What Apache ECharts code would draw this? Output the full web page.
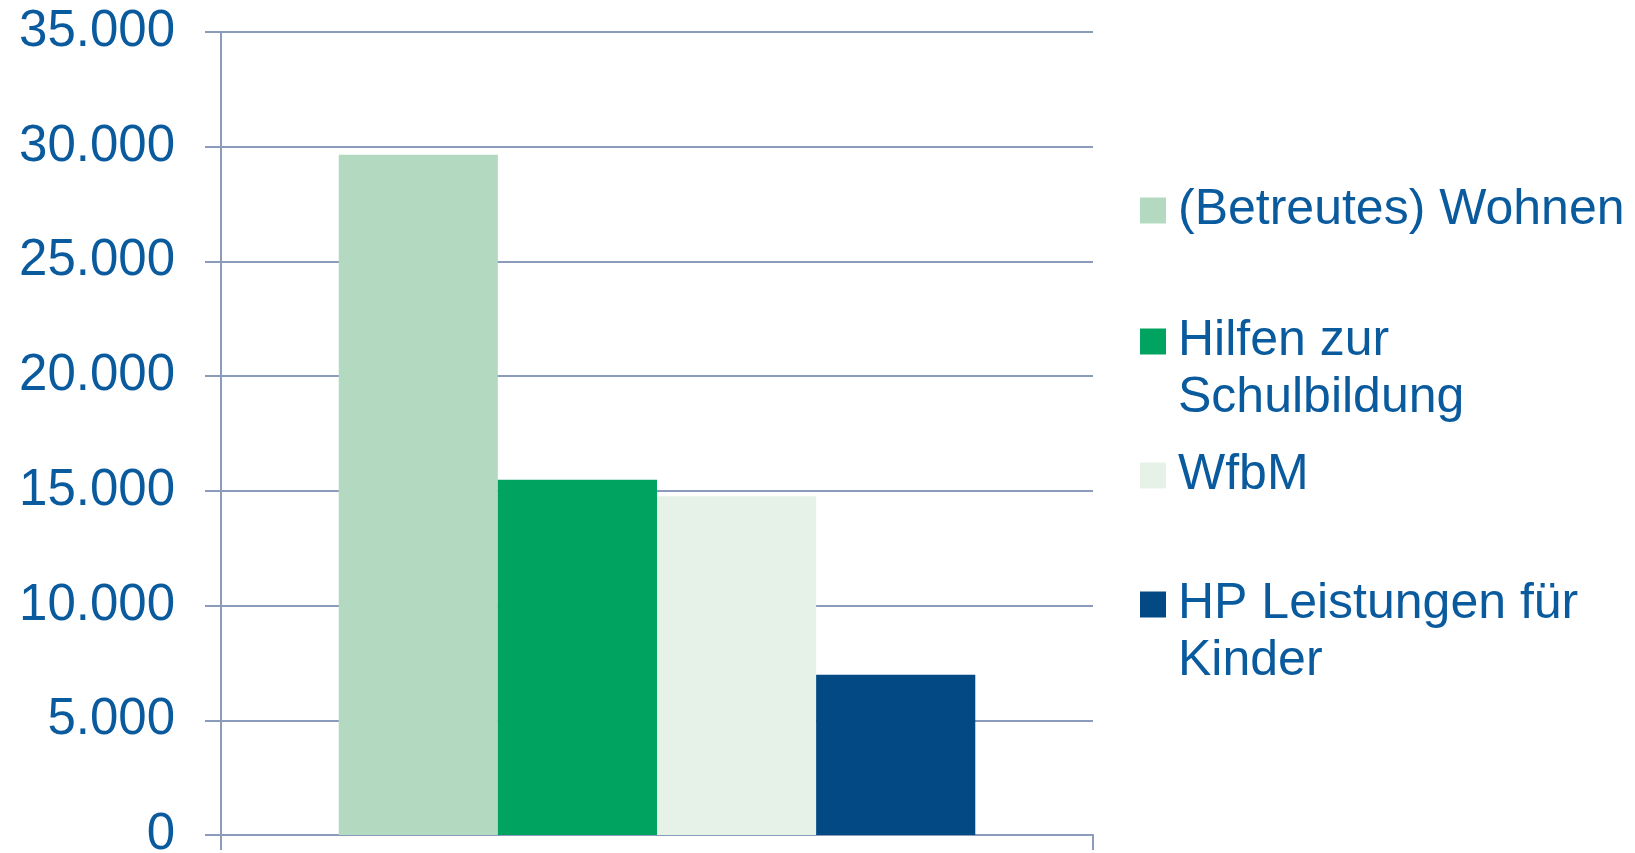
<!DOCTYPE html>
<html>
<head>
<meta charset="utf-8">
<script src="https://cdn.jsdelivr.net/npm/echarts@6/dist/echarts.min.js"></script>
<style>
  html, body { margin: 0; padding: 0; background: #fff; }
  #main { width: 1635px; height: 853px; }
</style>
</head>
<body>
<div id="main"></div>
<script>
var categories = ['']
var seriesNames = ['(Betreutes) Wohnen', 'Hilfen zur Schulbildung', 'WfbM', 'HP Leistungen für Kinder']
// wrapped legend texts; the leading empty line keeps the marker on the first text line
var legendLabels = ['(Betreutes) Wohnen', '\nHilfen zur\nSchulbildung', 'WfbM', '\nHP Leistungen für\nKinder']
var values = [29650, 15480, 14770, 6980]
var colorList = ['#B3DAC1', '#00A360', '#E6F2E8', '#034983']
// top of each legend box
var legendTops = [182, 256, 447, 519]

var textColor = '#0A5A9E'
var lineColor = '#8A9BBB'
var fontFamily = '"Liberation Sans", Arial, sans-serif'

var myChart = echarts.init(document.getElementById('main'))

function fmt (v) {
  return String(v).replace(/\B(?=(\d{3})+(?!\d))/g, '.')
}

var series = seriesNames.map(function (name, i) {
  return {
    name: name,
    type: 'bar',
    barGap: 0,
    barCategoryGap: '27%',
    data: [values[i]],
    itemStyle: { color: colorList[i] }
  }
})

var legends = seriesNames.map(function (name, i) {
  return {
    orient: 'vertical',
    left: 1140,
    top: legendTops[i],
    padding: 0,
    selectedMode: false,
    icon: 'rect',
    itemWidth: 26,
    itemHeight: 26,
    data: [name],
    formatter: function () { return legendLabels[i] },
    textStyle: {
      color: textColor,
      fontFamily: fontFamily,
      fontSize: 50,
      lineHeight: 57,
      padding: [0, 0, 0, 7]
    }
  }
})

const option = {
  animation: false,
  color: colorList,
  grid: {
    left: 221,
    right: 542,
    top: 32,
    bottom: 18,
    containLabel: false,
    outerBoundsMode: 'none'
  },
  legend: legends,
  xAxis: {
    type: 'category',
    data: categories,
    axisLine: { show: true, lineStyle: { color: lineColor, width: 2 } },
    axisTick: { show: true, length: 15, lineStyle: { color: lineColor, width: 2 } },
    axisLabel: { show: false },
    splitLine: { show: false }
  },
  yAxis: {
    type: 'value',
    min: 0,
    max: 35000,
    interval: 5000,
    axisLine: { show: true, lineStyle: { color: lineColor, width: 2 } },
    axisTick: { show: true, length: 16, lineStyle: { color: lineColor, width: 2 } },
    axisLabel: {
      color: textColor,
      fontFamily: fontFamily,
      fontSize: 51,
      margin: 46,
      formatter: fmt
    },
    splitLine: { show: true, lineStyle: { color: lineColor, width: 2 } }
  },
  series: series
}
myChart.setOption(option)
</script>
</body>
</html>
